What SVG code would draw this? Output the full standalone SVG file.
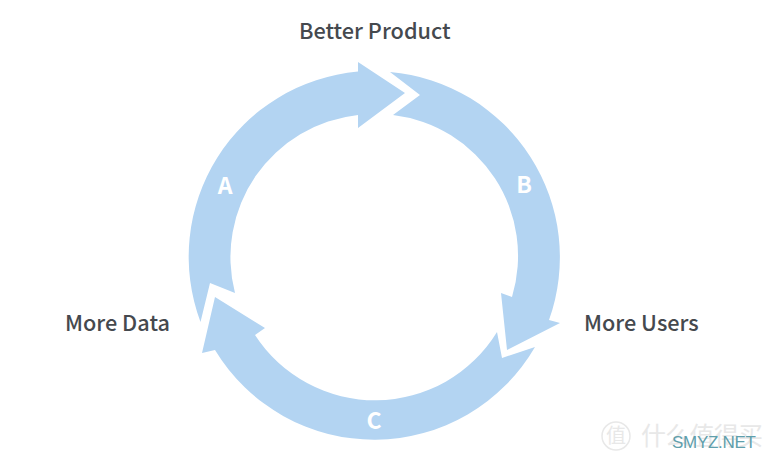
<svg xmlns="http://www.w3.org/2000/svg" width="768" height="462" viewBox="0 0 768 462">
<style>
.arc{fill:#b3d4f2}
.lab{font-family:"Noto Sans CJK SC","Noto Sans",sans-serif;font-size:21.700px;font-weight:500;fill:#45494e}
.let{font-family:"Noto Sans CJK SC","Noto Sans",sans-serif;font-size:23px;font-weight:700;fill:#fff;text-anchor:middle}
.wm{font-family:"Noto Sans CJK SC","Noto Sans",sans-serif;fill:#e8e8e8}
</style>
<rect width="768" height="462" fill="#fff"/>
<g id="connectors">
<path id="arc-a" class="arc" d="M200.500 322A186 186 0 0 1 358 71.500V62L405 93L358 128V115A143 143 0 0 0 235 293L210 283Z"/>
<path id="arc-b" class="arc" d="M390 72A186 186 0 0 1 549 320L560 323L507 350L501 293L512 297A142 142 0 0 0 393 115L420 95Z"/>
<path id="arc-c" class="arc" d="M535 347A186 186 0 0 1 215 350L202 353L215 297L265 328L255 335A143 143 0 0 0 497 332L502 358Z"/>
</g>
<g id="node-better-product"><text class="lab" x="299" y="38.500">Better Product</text></g>
<g id="node-more-users"><text class="lab" x="584" y="331">More Users</text></g>
<g id="node-more-data"><text class="lab" x="65" y="331">More Data</text></g>
<g id="label-a"><text class="let" x="225" y="194">A</text></g>
<g id="label-b"><text class="let" x="524" y="193">B</text></g>
<g id="label-c"><text class="let" x="374" y="429">C</text></g>
<g id="watermark">
<circle cx="616" cy="436" r="14" fill="none" stroke="#e8e8e8" stroke-width="1.500"/>
<text class="wm" x="616" y="443" font-size="20" text-anchor="middle">值</text>
<text class="wm" x="641" y="445" font-size="25" textLength="122">什么值得买</text>
<text x="672" y="448" font-family="Liberation Sans,sans-serif" font-size="17" textLength="84" fill="#5f9fac">SMYZ.NET</text>
</g>
</svg>
